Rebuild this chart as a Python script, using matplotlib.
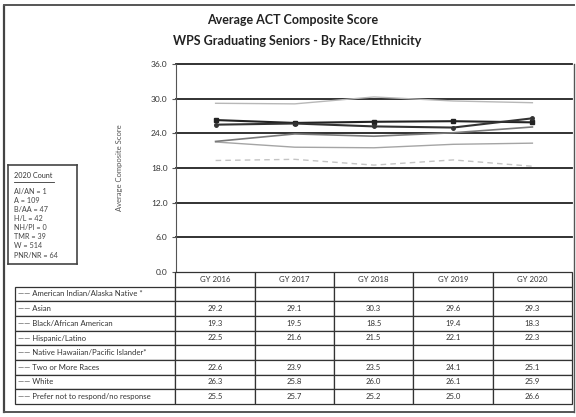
import matplotlib.pyplot as plt
import numpy as np
from matplotlib.lines import Line2D

plt.rcParams['font.family'] = ['Lato', 'DejaVu Sans']

years = ['GY 2016', 'GY 2017', 'GY 2018', 'GY 2019', 'GY 2020']
groups = ['American Indian/Alaska Native *', 'Asian', 'Black/African American',
          'Hispanic/Latino', 'Native Hawaiian/Pacific Islander*',
          'Two or More Races', 'White', 'Prefer not to respond/no response']
ai_an = [None, None, None, None, None]
asian = [29.2, 29.1, 30.3, 29.6, 29.3]
black = [19.3, 19.5, 18.5, 19.4, 18.3]
hispanic = [22.5, 21.6, 21.5, 22.1, 22.3]
nh_pi = [None, None, None, None, None]
two_more = [22.6, 23.9, 23.5, 24.1, 25.1]
white = [26.3, 25.8, 26.0, 26.1, 25.9]
no_resp = [25.5, 25.7, 25.2, 25.0, 26.6]
counts = ['AI/AN = 1', 'A = 109', 'B/AA = 47', 'H/L = 42', 'NH/PI = 0',
          'TMR = 39', 'W = 514', 'PNR/NR = 64']

series = [ai_an, asian, black, hispanic, nh_pi, two_more, white, no_resp]
styles = [None,
          dict(color='#b8b8b8', lw=1.0, ls='-'),
          dict(color='#c4c4c4', lw=1.0, ls=(0, (4, 3))),
          dict(color='#a5a5a5', lw=1.0, ls='-'),
          None,
          dict(color='#7a7a7a', lw=1.2, ls='-'),
          dict(color='#222222', lw=1.5, ls='-', marker='s', ms=2.5),
          dict(color='#333333', lw=1.5, ls='-', marker='o', ms=2.5)]

W, H = 576, 417
fig = plt.figure(figsize=(W / 100, H / 100), dpi=100)
fig.patch.set_facecolor('white')


def box(x0, y0, x1, y1):
    return [x0 / W, 1 - y1 / H, (x1 - x0) / W, (y1 - y0) / H]


# page frame
fig.add_artist(Line2D([4 / W, 4 / W], [1 - 6 / H, 1 - 412 / H], color='#444444', lw=1.6))
fig.add_artist(Line2D([4 / W, 574 / W], [1 - 5 / H, 1 - 5 / H], color='#555555', lw=1.4))
fig.add_artist(Line2D([574 / W, 574 / W], [1 - 64 / H, 1 - 412 / H], color='#555555', lw=1.0))
fig.add_artist(Line2D([4 / W, 574 / W], [1 - 412 / H, 1 - 412 / H], color='#555555', lw=1.4))

fig.text(293 / W, 1 - 20 / H, 'Average ACT Composite Score', ha='center', va='center',
         fontsize=9, fontweight='bold', color='#222222')
fig.text(297 / W, 1 - 41 / H, 'WPS Graduating Seniors - By Race/Ethnicity', ha='center',
         va='center', fontsize=9, fontweight='bold', color='#222222')

ax = fig.add_axes(box(176, 64, 572, 272))
x = np.arange(len(years))
for vals, st in zip(series, styles):
    if st is None:
        continue
    ax.plot(x, vals, **st)
ax.set_xlim(-0.5, 4.5)
ax.set_ylim(0, 36)
ax.set_yticks(np.arange(0, 37, 6))
ax.set_yticklabels([f'{v:.1f}' for v in np.arange(0, 37, 6)], fontsize=6, color='#333333')
ax.set_xticks([])
for v in np.arange(6, 37, 6):
    ax.axhline(v, color='#222222', lw=1.3, zorder=0, clip_on=False)
for s in ['top', 'right', 'bottom']:
    ax.spines[s].set_visible(False)
ax.spines['left'].set_color('#555555')
ax.tick_params(axis='y', length=3, color='#555555', pad=3)
ax.set_ylabel('Average Composite Score', fontsize=5.5, color='#555555', labelpad=20)

# data table under the plot
tab_ax = fig.add_axes(box(15, 272, 572, 404))
tab_ax.axis('off')
rows = [[''] + years]
for name, vals in zip(groups, series):
    rows.append(['—— ' + name] + ['' if v is None else f'{v:.1f}' for v in vals])
col_w = [160] + [79.2] * 5
tbl = tab_ax.table(cellText=rows, colWidths=[c / sum(col_w) for c in col_w],
                   bbox=[0, 0, 1, 1], cellLoc='center')
tbl.auto_set_font_size(False)
for (r, c), cell in tbl.get_celld().items():
    cell.set_edgecolor('#333333')
    cell.set_linewidth(0.9)
    cell.get_text().set_fontsize(5.6)
    cell.get_text().set_color('#333333')
    if c == 0:
        cell.get_text().set_ha('left')
        cell._loc = 'left'
        cell.PAD = 0.02
    if r == 0 and c == 0:
        cell.visible_edges = ''

# 2020 counts box
cax = fig.add_axes(box(8, 165, 77, 264))
cax.set_xticks([])
cax.set_yticks([])
for s in cax.spines.values():
    s.set_color('#444444')
    s.set_linewidth(1.2)
cax.text(0.08, 0.93, '2020 Count', fontsize=5.2, color='#333333', va='top',
         transform=cax.transAxes)
cax.plot([0.08, 0.66], [0.83, 0.83], color='#333333', lw=0.6, transform=cax.transAxes)
for i, t in enumerate(counts):
    cax.text(0.08, 0.77 - i * 0.092, t, fontsize=5.2, color='#444444', va='top',
             transform=cax.transAxes)

fig.savefig('out.png', dpi=100)
